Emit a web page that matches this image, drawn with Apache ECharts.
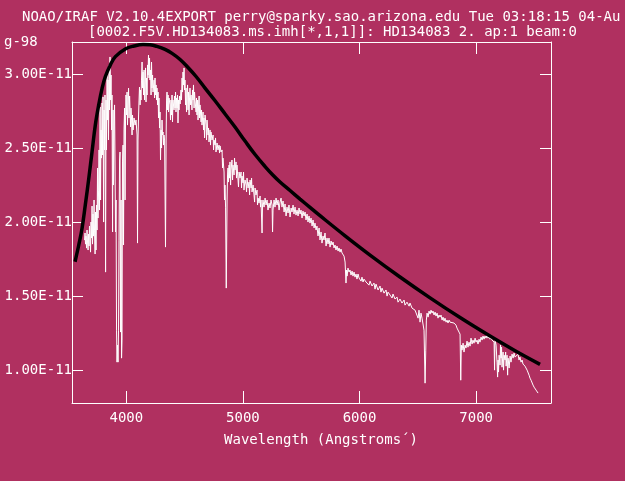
<!DOCTYPE html>
<html>
<head>
<meta charset="utf-8">
<script src="https://cdn.jsdelivr.net/npm/echarts@6/dist/echarts.min.js"></script>
<style>
html,body{margin:0;padding:0;background:#B03060;}
#chart{width:625px;height:481px;}
</style>
</head>
<body>
<div id="chart"></div>
<script>
// Flux values are in units of 1E-11 (the axis labels append "E-11").
const titleLine1 = 'NOAO/IRAF V2.10.4EXPORT perry@sparky.sao.arizona.edu Tue 03:18:15 04-Au';
const titleLine2 = '[0002.F5V.HD134083.ms.imh[*,1,1]]: HD134083 2. ap:1 beam:0';
const titleOverflow = 'g-98';
const xAxisName = 'Wavelength (Angstroms\u00b4)';
const xTicks = [4000, 5000, 6000, 7000];
const yTicks = [1.0, 1.5, 2.0, 2.5, 3.0];
const xRange = [3534, 7642];
const yRange = [0.780, 3.218];

const wavelength = [
3642,3646,3650,3654,3659,3663,3667,3672,3676,3680,
3684,3689,3693,3697,3702,3706,3710,3714,3719,3723,
3727,3732,3736,3740,3744,3749,3753,3757,
3762,3766,3770,3775,3779,3783,3787,3792,3796,3800,
3805,3809,3813,3817,3822,3826,3830,3835,3839,3843,
3847,3852,3856,3860,3865,3869,3873,3877,3882,3886,
3890,3895,3899,3903,3907,3912,3916,3920,3925,3929,
3933,3937,3942,3946,3950,3955,3959,3963,3967,3972,
3976,3980,3985,3989,3993,3997,4002,4006,4010,4015,
4019,4023,4028,4032,4036,4040,4045,4049,4053,4058,
4066,4075,4083,4092,4096,4100,4105,4109,4113,4118,
4122,4126,4130,4135,4139,4143,4148,4152,4156,4160,
4165,4169,4173,4178,4182,4186,4190,4195,4199,4203,
4208,4212,4216,4220,4225,4229,4238,4242,4246,4250,
4255,4259,4263,4268,4272,4276,4280,4285,4289,4293,
4298,4302,4306,4310,4315,4319,4323,4328,4336,4341,
4345,4349,4353,4358,4362,4366,4375,4379,4383,4388,
4392,4396,4400,4409,4413,4418,4422,4426,4430,4435,
4439,4443,4448,4452,4456,4461,4469,4473,4478,4482,
4486,4491,4495,4499,4503,4508,4512,4516,4521,4525,
4529,4533,4538,4542,4546,4551,4555,4563,4568,4572,
4576,4581,4585,4589,4598,4602,4606,4611,4615,4619,
4624,4628,4632,4641,4645,4649,4658,4662,4666,4671,
4675,4684,4688,4692,4701,4705,4709,4718,4722,4726,
4735,4744,4748,4752,4761,4765,4769,4778,4786,4795,
4799,4804,4812,4821,4825,4829,4838,4842,4846,4851,
4857,4864,4868,4872,4876,4881,4885,4889,4894,4898,
4906,4911,4915,4924,4928,4932,4941,4945,4949,4958,
4962,4967,4975,4984,4988,4992,5001,5005,5009,5018,
5027,5031,5035,5044,5052,5057,5061,5070,5074,5078,
5087,5095,5100,5104,5112,5121,5125,5130,5138,5147,
5151,5155,5164,5168,5172,5181,5190,5198,5207,5215,
5224,5232,5241,5250,5254,5258,5267,5275,5284,5292,
5301,5310,5318,5327,5335,5344,5353,5361,5370,5378,
5387,5395,5404,5413,5421,5430,5438,5447,5455,5464,
5473,5481,5490,5498,5507,5515,5524,5533,5541,5550,
5558,5567,5575,5584,5593,5601,5610,5618,5627,5635,
5644,5653,5661,5670,5678,5687,5695,5704,5713,5721,
5730,5738,5747,5756,5764,5773,5781,5790,5798,5807,
5816,5824,5833,5841,5850,5858,5867,5876,5884,5889,
5893,5901,5910,5918,5927,5936,5944,5953,5961,5970,
5978,5987,5996,6004,6013,6021,6030,6038,6056,6073,
6081,6090,6107,6124,6133,6141,6159,6176,6184,6193,
6210,6227,6236,6244,6262,6279,6287,6304,6322,6330,
6347,6364,6382,6390,6407,6425,6433,6450,6467,6476,
6493,6502,6510,6519,6527,6536,6545,6553,6562,6568,
6573,6579,6588,6596,6605,6613,6622,6630,6639,6648,
6656,6665,6673,6682,6690,6699,6708,6716,6725,6733,
6742,6750,6759,6768,6776,6793,6810,6827,6836,6845,
6853,6862,6868,6873,6879,6888,6896,6905,6913,6922,
6930,6939,6948,6956,6965,6973,6982,6991,6999,7008,
7016,7025,7033,7042,7051,7059,7068,7076,7085,7093,
7102,7111,7119,7128,7136,7145,7154,7158,7162,7171,
7179,7184,7188,7192,7197,7205,7209,7214,7218,7222,
7231,7235,7240,7248,7253,7257,7265,7270,7274,7283,
7291,7299,7308,7317,7325,7334,7342,7351,7359,7368,
7376,7385,7394,7402,7411,7419,7428,7437,7445,7454,
7462,7471,7479,7488,7497,7505,7514,7522,7531
];

const flux = [
1.880,1.928,1.853,1.907,1.826,1.948,1.867,1.813,1.921,1.840,
1.975,1.880,1.799,2.002,1.894,2.110,1.853,2.056,1.907,2.151,
1.948,1.786,2.070,1.813,2.117,1.948,2.367,2.029,
2.218,2.489,2.083,2.779,2.151,2.624,2.434,2.806,2.455,2.847,
2.002,2.759,2.489,2.860,1.664,2.826,2.489,3.015,2.691,2.961,
2.556,3.063,2.759,3.117,2.826,2.995,2.624,2.860,1.935,2.759,
2.252,2.657,2.793,2.421,1.935,2.151,1.272,1.056,1.171,1.056,
1.272,1.880,2.421,2.475,1.259,2.151,1.083,1.205,2.408,2.522,
1.847,2.624,2.772,2.151,2.691,2.860,2.725,2.880,2.657,2.826,
2.907,2.705,2.853,2.759,2.644,2.772,2.691,2.590,2.725,2.624,
2.705,2.657,2.691,2.590,1.860,2.556,2.725,2.826,2.914,2.793,
2.894,2.826,2.961,3.083,2.907,3.015,2.860,3.029,2.826,2.928,
3.043,2.813,2.975,2.860,3.063,2.995,3.130,2.975,3.110,2.961,
3.029,2.860,3.083,2.907,2.995,2.880,2.961,2.840,2.975,2.860,
2.928,2.826,2.907,2.793,2.880,2.705,2.840,2.637,2.745,2.421,
2.624,2.502,2.691,2.590,2.610,2.522,2.590,2.556,1.833,2.556,
2.826,2.880,2.759,2.860,2.745,2.840,2.793,2.691,2.826,2.725,
2.860,2.678,2.826,2.759,2.853,2.772,2.880,2.745,2.840,2.772,
2.860,2.671,2.826,2.759,2.853,2.799,2.894,2.826,2.975,2.880,
3.015,2.928,3.043,2.894,2.961,2.793,2.907,2.745,2.860,2.928,
2.759,2.880,2.725,2.840,2.907,2.793,2.860,2.759,2.894,2.826,
2.928,2.772,2.880,2.826,2.745,2.840,2.725,2.826,2.691,2.772,
2.853,2.705,2.793,2.678,2.759,2.657,2.745,2.624,2.705,2.570,
2.725,2.657,2.556,2.691,2.590,2.637,2.543,2.624,2.522,2.610,
2.556,2.590,2.489,2.556,2.522,2.570,2.475,2.536,2.489,2.522,
2.468,2.516,2.475,2.489,2.367,2.434,2.340,2.151,2.252,2.103,
1.556,2.151,2.320,2.367,2.272,2.387,2.299,2.408,2.252,2.353,
2.421,2.286,2.387,2.320,2.434,2.353,2.408,2.299,2.387,2.286,
2.239,2.340,2.299,2.340,2.232,2.313,2.266,2.340,2.218,2.286,
2.252,2.205,2.299,2.232,2.272,2.185,2.286,2.232,2.299,2.205,
2.252,2.185,2.137,2.232,2.185,2.218,2.117,2.164,2.130,2.178,
2.103,2.151,1.928,2.117,2.151,2.103,2.164,2.117,2.151,2.083,
2.130,2.097,2.151,2.117,1.935,2.083,2.151,2.103,2.164,2.117,
2.151,2.083,2.137,2.164,2.103,2.144,2.070,2.124,2.043,2.103,
2.063,2.117,2.036,2.097,2.070,2.117,2.056,2.103,2.049,2.083,
2.043,2.097,2.056,2.083,2.029,2.076,2.043,2.070,2.016,2.056,
2.002,2.043,1.995,2.029,1.975,2.016,1.962,1.995,1.948,1.975,
1.908,1.962,1.881,1.935,1.860,1.908,1.881,1.928,1.840,1.894,
1.854,1.894,1.833,1.874,1.847,1.867,1.827,1.847,1.813,1.840,
1.806,1.827,1.799,1.820,1.793,1.806,1.772,1.732,1.590,1.678,
1.637,1.691,1.664,1.678,1.644,1.671,1.637,1.664,1.630,1.651,
1.617,1.651,1.624,1.637,1.603,1.630,1.597,1.617,1.597,1.610,
1.576,1.603,1.570,1.590,1.549,1.583,1.543,1.570,1.529,1.556,
1.522,1.543,1.502,1.529,1.509,1.489,1.516,1.482,1.495,1.461,
1.482,1.455,1.475,1.441,1.461,1.434,1.455,1.421,1.434,1.407,
1.414,1.353,1.407,1.326,1.387,1.353,1.340,1.272,0.914,1.137,
1.340,1.387,1.360,1.401,1.380,1.407,1.387,1.401,1.374,1.394,
1.367,1.387,1.353,1.374,1.360,1.374,1.340,1.360,1.333,1.353,
1.326,1.340,1.320,1.340,1.326,1.333,1.320,1.306,1.286,1.293,
1.259,1.245,0.934,1.171,1.137,1.184,1.124,1.171,1.151,1.198,
1.157,1.191,1.164,1.218,1.178,1.205,1.184,1.218,1.191,1.205,
1.178,1.211,1.191,1.225,1.205,1.232,1.211,1.232,1.218,1.239,
1.218,1.232,1.211,1.225,1.205,1.218,1.191,1.002,1.205,1.171,
1.056,0.955,1.070,0.989,1.103,1.036,1.171,1.083,1.157,1.022,
1.124,1.002,1.103,1.070,1.124,1.029,1.103,0.968,1.083,1.016,
1.097,1.056,1.110,1.083,1.117,1.090,1.103,1.083,1.110,1.070,
1.090,1.056,1.070,1.043,1.056,1.029,1.029,1.002,0.989,0.968,
0.948,0.934,0.921,0.901,0.887,0.880,0.867,0.860,0.847
];

const fitWavelength = [3560,3592,3620,3648,3678,3706,3734,3763,3792,3820,3863,3906,3991,4066,4143,4203,4263,4332,4392,4461,4529,4598,4675,4761,4847,4932,5018,5104,5190,5254,5318,5404,5490,5575,5661,5876,6090,6347,6605,6862,7119,7334,7548];
const fitFlux = [1.734,1.847,1.959,2.117,2.297,2.477,2.657,2.793,2.905,2.984,3.063,3.119,3.171,3.191,3.201,3.199,3.188,3.168,3.141,3.100,3.046,2.985,2.907,2.821,2.732,2.644,2.549,2.458,2.377,2.322,2.273,2.215,2.157,2.101,2.045,1.909,1.779,1.631,1.490,1.357,1.232,1.133,1.041];

function zip(xs, ys) {
  const n = Math.min(xs.length, ys.length);
  const out = [];
  for (let i = 0; i < n; i++) out.push([xs[i], ys[i]]);
  return out;
}

const FONT = 'DejaVu Sans Mono';
const WHITE = '#ffffff';
const txt = {color: WHITE, fontFamily: FONT, fontSize: 14, fontWeight: 'normal'};

const chart = echarts.init(document.getElementById('chart'), null, {renderer: 'canvas'});
chart.setOption({
  backgroundColor: '#B03060',
  animation: false,
  title: [
    {text: titleLine1, left: 22, top: 10, padding: 0, textStyle: txt},
    {text: titleLine2, left: 88, top: 25, padding: 0, textStyle: txt},
    {text: titleOverflow, left: 4, top: 35, padding: 0, textStyle: txt}
  ],
  grid: {left: 72, top: 42, width: 479, height: 361, show: false},
  xAxis: [
    {
      type: 'value', position: 'bottom', min: xRange[0], max: xRange[1],
      axisLine: {show: true, onZero: false, lineStyle: {color: WHITE, width: 1}},
      axisTick: {show: true, inside: true, length: 12, customValues: xTicks, lineStyle: {color: WHITE, width: 1}},
      axisLabel: {show: true, customValues: xTicks, margin: 8, color: WHITE, fontFamily: FONT, fontSize: 14,
        formatter: v => String(v)},
      splitLine: {show: false},
      name: xAxisName, nameLocation: 'middle', nameGap: 30,
      nameTextStyle: {color: WHITE, fontFamily: FONT, fontSize: 14, padding: [0, 0, 0, 19]}
    },
    {
      type: 'value', position: 'top', min: xRange[0], max: xRange[1],
      axisLine: {show: true, onZero: false, lineStyle: {color: WHITE, width: 1}},
      axisTick: {show: true, inside: true, length: 12, customValues: xTicks, lineStyle: {color: WHITE, width: 1}},
      axisLabel: {show: false},
      splitLine: {show: false}
    }
  ],
  yAxis: [
    {
      type: 'value', position: 'left', min: yRange[0], max: yRange[1],
      axisLine: {show: true, onZero: false, lineStyle: {color: WHITE, width: 1}},
      axisTick: {show: true, inside: true, length: 11, customValues: yTicks, lineStyle: {color: WHITE, width: 1}},
      axisLabel: {
        show: true, customValues: yTicks, margin: 0, color: WHITE, fontFamily: FONT, fontSize: 14,
        padding: [4, 0, 0, 0],
        formatter: v => v.toFixed(2) + 'E-11'
      },
      splitLine: {show: false}
    },
    {
      type: 'value', position: 'right', min: yRange[0], max: yRange[1],
      axisLine: {show: true, onZero: false, lineStyle: {color: WHITE, width: 1}},
      axisTick: {show: true, inside: true, length: 11, customValues: yTicks, lineStyle: {color: WHITE, width: 1}},
      axisLabel: {show: false},
      splitLine: {show: false}
    }
  ],
  series: [
    {
      type: 'line', xAxisIndex: 0, yAxisIndex: 0,
      data: zip(wavelength, flux),
      showSymbol: false, symbol: 'none',
      lineStyle: {color: WHITE, width: 1},
      silent: true, z: 2
    },
    {
      type: 'line', xAxisIndex: 0, yAxisIndex: 0,
      data: zip(fitWavelength, fitFlux),
      showSymbol: false, symbol: 'none', smooth: 0.4,
      lineStyle: {color: '#000000', width: 3.5},
      silent: true, z: 3
    }
  ]
});
</script>
</body>
</html>
